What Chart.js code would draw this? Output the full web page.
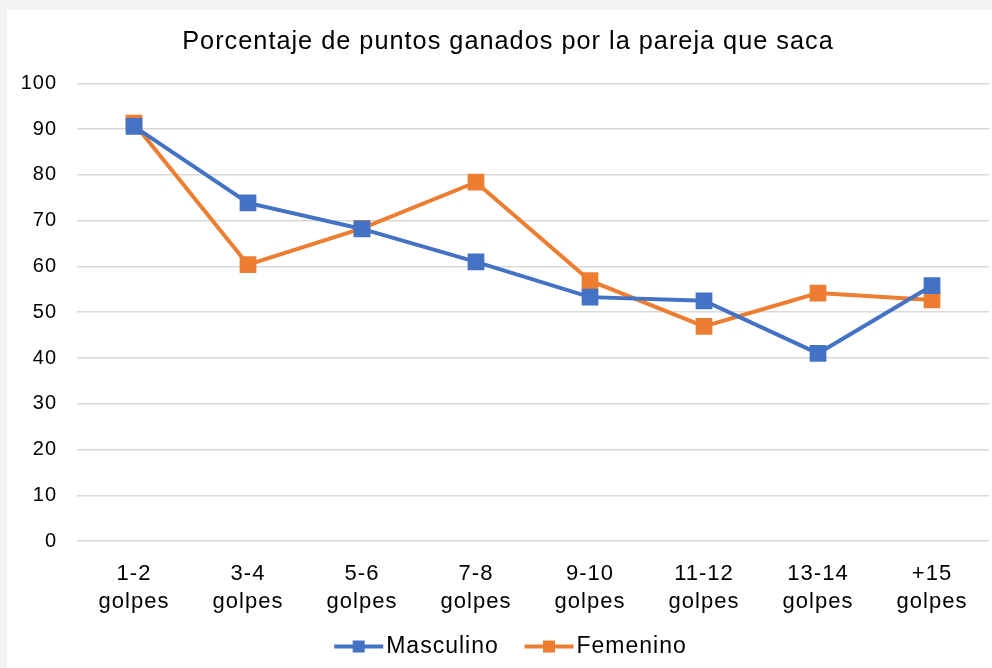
<!DOCTYPE html>
<html>
<head>
<meta charset="utf-8">
<script src="https://cdn.jsdelivr.net/npm/chart.js@4.4.1/dist/chart.umd.min.js"></script>
<style>
  html, body { margin: 0; padding: 0; background: #f3f3f3; overflow: hidden; }
  #wrap { position: absolute; left: 7px; top: 10px; width: 1010px; height: 658px; background: #fff; }
</style>
</head>
<body>
<div id="wrap"><canvas id="lineChart"></canvas></div>
<script>
var categorias = [['1-2', 'golpes'], ['3-4', 'golpes'], ['5-6', 'golpes'], ['7-8', 'golpes'],
  ['9-10', 'golpes'], ['11-12', 'golpes'], ['13-14', 'golpes'], ['+15', 'golpes']];
var masculino = [90.6, 73.9, 68.2, 61.0, 53.3, 52.5, 41.0, 55.8];
var femenino = [91.3, 60.4, 68.3, 78.4, 56.9, 46.9, 54.2, 52.7];

var fuente = 'Liberation Sans, Arial, Helvetica, sans-serif';
var tamLeyenda = 23;
var cajaLeyenda = 43.5;

// texto un poco más espaciado, como en el original
var espaciado = {
  id: 'espaciado',
  beforeUpdate: function (chart) { chart.ctx.letterSpacing = '1px'; },
  beforeLayout: function (chart) { chart.ctx.letterSpacing = '1px'; },
  beforeDraw: function (chart) { chart.ctx.letterSpacing = '1px'; },
};

// el título y la leyenda van centrados en el lienzo entero, no en el área recortada
var centrado = {
  id: 'centrado',
  afterLayout: function (chart) {
    chart.titleBlock.right += 20;
    chart.legend.right += 22;
  }
};

// línea con cuadrado pegada al texto de la leyenda
var marcaLeyenda = {
  id: 'marcaLeyenda',
  afterDraw: function (chart) {
    var ctx = chart.ctx;
    var legend = chart.legend;
    legend.legendItems.forEach(function (item, i) {
      var box = legend.legendHitBoxes[i];
      var color = chart.data.datasets[item.datasetIndex].borderColor;
      var xTexto = box.left + cajaLeyenda + tamLeyenda / 2;
      var cy = box.top + box.height / 2;
      ctx.save();
      ctx.fillStyle = color;
      ctx.fillRect(xTexto - 52, cy - 2, 49, 4);
      ctx.fillRect(xTexto - 27.5 - 6, cy - 6, 12, 12);
      ctx.restore();
    });
  }
};

var ctx = document.getElementById('lineChart');

new Chart(ctx, {
  type: 'line',
  data: {
    labels: categorias,
    datasets: [
      {
        label: 'Masculino',
        data: masculino,
        borderColor: '#4472C4',
        backgroundColor: '#4472C4',
        borderWidth: 4,
        pointStyle: 'rect',
        pointRadius: 9,
        pointHoverRadius: 9,
        tension: 0,
      },
      {
        label: 'Femenino',
        data: femenino,
        borderColor: '#ED7D31',
        backgroundColor: '#ED7D31',
        borderWidth: 4,
        pointStyle: 'rect',
        pointRadius: 9,
        pointHoverRadius: 9,
        tension: 0,
      },
    ],
  },
  options: {
    responsive: true,
    maintainAspectRatio: false,
    animation: false,
    layout: { padding: { left: 0, right: 28, top: 10, bottom: 0 } },
    plugins: {
      title: {
        display: true,
        text: 'Porcentaje de puntos ganados por la pareja que saca',
        color: '#000',
        font: { family: fuente, size: 25.3, weight: 'normal' },
        padding: { top: 7, bottom: 26 },
      },
      legend: {
        position: 'bottom',
        labels: {
          color: '#000',
          font: { family: fuente, size: tamLeyenda },
          boxWidth: cajaLeyenda,
          boxHeight: 4,
          padding: 8,
          generateLabels: function (chart) {
            var items = Chart.defaults.plugins.legend.labels.generateLabels(chart);
            items.forEach(function (it, i) {
              it.fillStyle = 'rgba(0,0,0,0)';
              it.strokeStyle = 'rgba(0,0,0,0)';
              it.lineWidth = 0;
              // hueco entre los dos elementos
              if (i < items.length - 1) it.text = it.text + '  ';
            });
            return items;
          },
        },
      },
      tooltip: { enabled: false },
    },
    scales: {
      x: {
        offset: true,
        grid: { display: false },
        border: { display: false },
        ticks: {
          color: '#000',
          font: { family: fuente, size: 22, lineHeight: 1.27 },
          maxRotation: 0,
          padding: 11,
        },
      },
      y: {
        min: 0,
        max: 100,
        border: { display: false },
        grid: { color: '#d9d9d9', lineWidth: 1.5, drawTicks: false },
        ticks: {
          stepSize: 10,
          color: '#000',
          font: { family: fuente, size: 20 },
          padding: 20,
        },
        afterFit: function (scale) { scale.width = 70; },
      },
    },
  },
  plugins: [espaciado, centrado, marcaLeyenda],
});
</script>
</body>
</html>
